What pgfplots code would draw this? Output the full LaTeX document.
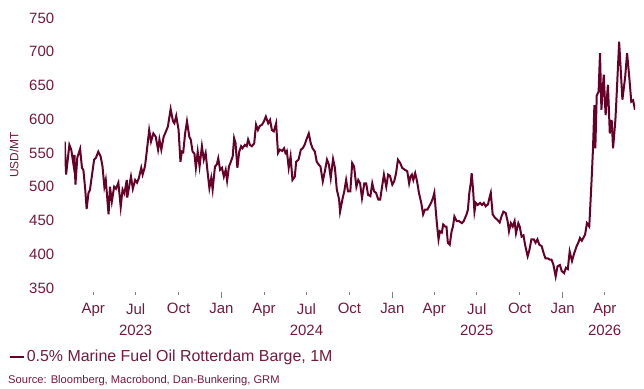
\documentclass[border=0pt]{standalone}
\usepackage{pgfplots}
\pgfplotsset{compat=1.18}
\usepackage{fontspec}
\setmainfont{Liberation Sans}
\definecolor{mfo}{RGB}{102,0,40}
\definecolor{txt}{RGB}{115,25,60}

% x = days since 1 Jan 2023
\begin{document}
\begin{tikzpicture}
\begin{axis}[
  at={(0,0)}, anchor=south west,
  scale only axis, width=570.3bp, height=274bp,
  xmin=29, xmax=1251, ymin=344, ymax=750,
  axis x line*=bottom, axis y line*=left,
  axis line style={draw=none},
  ytick={350,400,...,750},
  ytick style={draw=none},
  /pgf/number format/assume math mode=true,
  yticklabel style={font=\fontsize{15}{18}\selectfont, text=txt, xshift=-4bp},
  xtick={90,181,273,365,456,547,639,731,821,912,1004,1096,1186},
  xticklabels={Apr,{Jul\\2023},Oct,Jan,Apr,{Jul\\2024},Oct,Jan,Apr,{Jul\\2025},Oct,Jan,{Apr\\2026}},
  xticklabel style={font=\fontsize{15}{21.5}\selectfont, text=txt, align=center, yshift=-5bp},
  tick align=outside,
  major tick length=3bp,
  xtick style={draw=gray, line width=0.6bp},
  extra x ticks={365,731,1096}, extra x tick labels={},
  extra x tick style={major tick length=5.5bp},
  ylabel={USD/MT},
  ylabel style={font=\fontsize{12}{14}\selectfont, text=txt, at={(axis description cs:-0.0889,0.5)}, anchor=center},
  legend style={at={(axis description cs:-0.0994,-0.237)}, anchor=west, draw=none, fill=none, inner sep=0pt,
    font=\fontsize{16}{18}\selectfont, text=txt},
  legend cell align=left,
  legend image code/.code={\draw[#1, line width=2.6bp] (0bp,0bp) -- (14bp,0bp);},
]
\addplot[mfo, line width=2bp] coordinates {
(29,567) (32,518) (39,562) (43,555) (48,532) (50,547) (52,503) (56,543) (62,556) (66,528)
(69,525) (73,496) (76,467) (80,491) (83,495) (87,515) (92,540) (96,543) (101,552) (106,545)
(110,530) (114,500) (117,510) (123,459) (126,500) (130,478) (135,500) (139,497) (144,506) (149,470)
(153,496) (157,490) (162,510) (163,484) (167,500) (171,515) (175,497) (180,510) (184,506) (188,513)
(193,528) (196,518) (201,530) (205,553) (210,584) (214,567) (219,579) (224,574) (229,555) (232,570)
(236,555) (241,574) (246,582) (250,589) (253,602) (256,615) (261,597) (264,594) (268,605) (273,584)
(277,537) (280,552) (283,551) (287,579) (291,597) (296,574) (299,570) (303,552) (307,549) (310,528)
(314,552) (318,530) (323,560) (327,540) (331,550) (335,523) (339,498) (343,513) (346,496) (351,530)
(355,533) (358,542) (362,525) (366,528) (370,515) (374,525) (377,509) (381,530) (385,537) (389,545)
(392,572) (395,565) (399,528) (403,552) (407,560) (410,557) (415,562) (419,560) (422,570) (426,562)
(430,560) (435,564) (439,592) (443,584) (447,590) (452,592) (456,597) (460,604) (465,594) (469,599)
(473,584) (477,582) (482,594) (486,550) (490,555) (495,553) (499,557) (502,550) (505,553) (509,528)
(513,545) (517,510) (522,515) (525,537) (530,540) (535,555) (539,557) (543,562) (547,570) (552,579)
(556,565) (560,557) (565,552) (569,537) (573,533) (577,530) (582,508) (587,525) (591,540) (595,533)
(599,513) (604,541) (608,528) (612,496) (617,481) (619,463) (624,481) (628,493) (632,510) (636,493)
(641,493) (645,535) (649,530) (654,500) (658,510) (662,505) (666,483) (671,505) (675,505) (679,488)
(684,486) (688,505) (692,493) (696,491) (701,481) (705,481) (709,500) (713,518) (718,500) (722,518)
(726,516) (731,503) (735,508) (739,520) (743,540) (748,535) (752,528) (758,525) (763,523) (767,505)
(770,515) (773,518) (776,510) (780,520) (784,508) (788,491) (793,476) (797,459) (801,466) (806,466)
(810,471) (814,476) (818,483) (821,491) (826,449) (830,422) (833,434) (837,432) (840,444) (844,441)
(847,441) (850,417) (854,414) (858,434) (861,441) (864,456) (869,449) (874,449) (880,446) (884,449)
(890,459) (893,466) (896,491) (899,505) (901,520) (904,496) (907,463) (910,476) (914,473) (919,476)
(923,473) (927,476) (931,471) (936,474) (940,486) (942,491) (946,459) (951,454) (956,451) (961,447)
(965,456) (969,463) (974,461) (978,449) (981,434) (985,446) (989,441) (993,449) (996,431) (1001,446)
(1004,441) (1008,426) (1012,428) (1016,412) (1021,397) (1025,407) (1029,422) (1034,422) (1038,417) (1042,422)
(1046,414) (1051,412) (1055,402) (1059,394) (1064,394) (1068,392) (1072,392) (1076,385) (1081,367) (1085,382)
(1090,384) (1094,375) (1099,372) (1103,380) (1107,378) (1111,404) (1116,390) (1120,400) (1126,412) (1130,418)
(1133,424) (1137,420) (1144,429) (1148,446) (1153,441) (1158,510) (1161,557) (1164,621) (1166,557) (1169,635)
(1173,641) (1176,698) (1179,614) (1184,666) (1188,606) (1193,651) (1197,579) (1201,599) (1204,557) (1209,599)
(1212,641) (1217,715) (1221,666) (1224,629) (1230,663) (1234,698) (1239,660) (1243,626) (1247,628) (1251,614)
};
\addlegendentry{0.5\% Marine Fuel Oil Rotterdam Barge, 1M}
\end{axis}
\node[anchor=west, inner sep=0pt, font=\fontsize{11.2}{13}\selectfont, text=txt] at (-56.7bp,-89bp)
  {Source: Bloomberg, Macrobond, Dan-Bunkering, GRM};
\pgfresetboundingbox
\path[use as bounding box] (-64.7bp,-97bp) rectangle (579.3bp,292bp);
\end{tikzpicture}
\end{document}
